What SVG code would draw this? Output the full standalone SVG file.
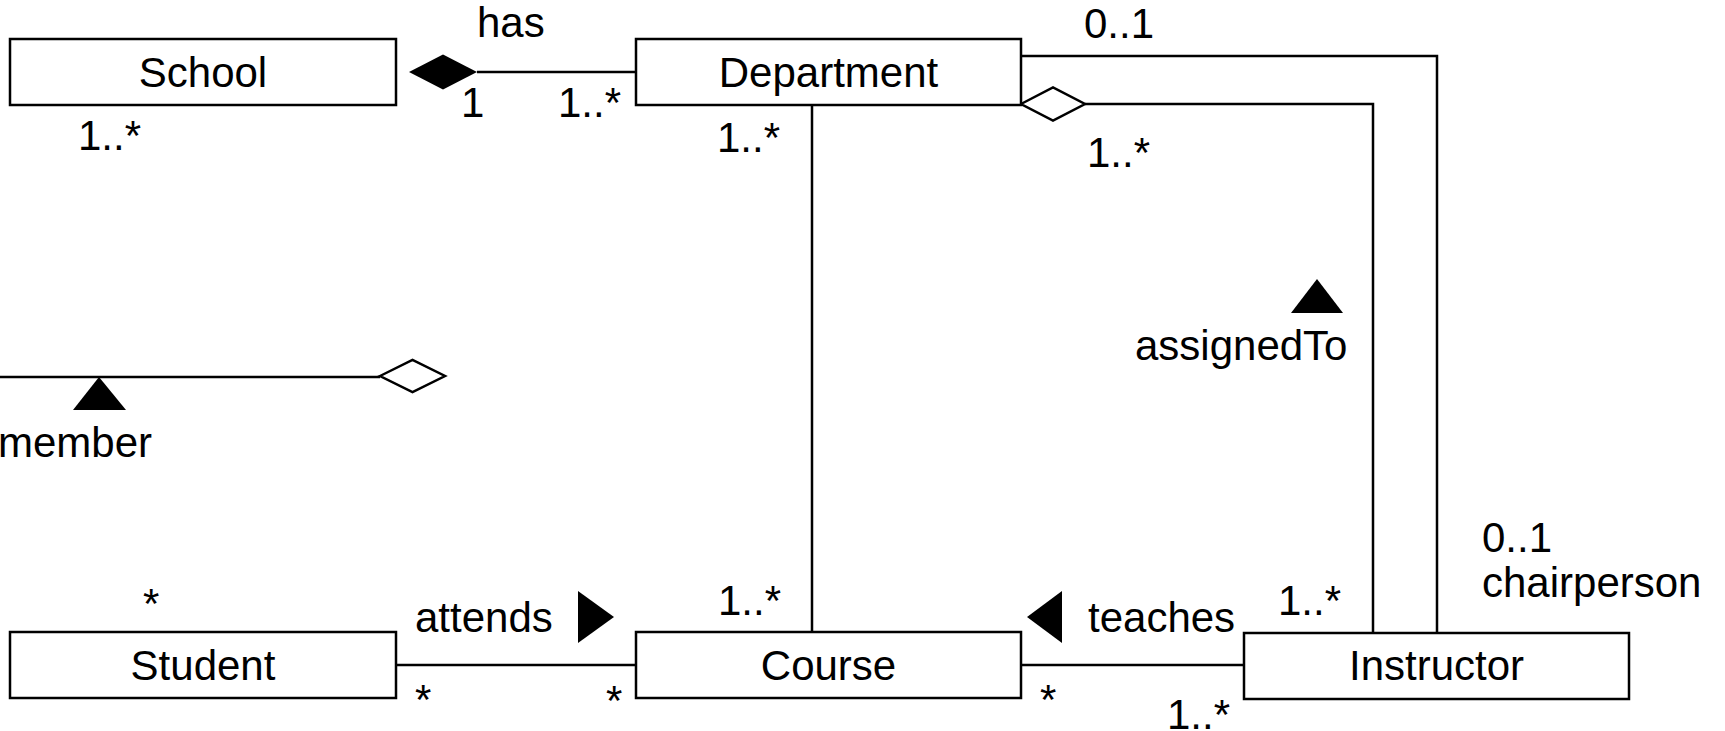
<svg xmlns="http://www.w3.org/2000/svg" width="1725" height="731" viewBox="0 0 1725 731">
<style>
  .box { fill: #ffffff; stroke: #000000; stroke-width: 2.5; }
  .ln { fill: none; stroke: #000000; stroke-width: 2.5; }
  .hollow { fill: #ffffff; stroke: #000000; stroke-width: 2.5; stroke-linejoin: miter; }
  .solid { fill: #000000; stroke: none; }
  text { font-family: "Liberation Sans", Arial, sans-serif; font-size: 42px; fill: #000000; }
  .name { text-anchor: middle; }
</style>
<rect width="1725" height="731" fill="#ffffff"/>
<g id="connectors">
  <!-- School - Department (has, composition) -->
  <line class="ln" x1="477" y1="72" x2="636" y2="72"/>
  <polygon class="solid" points="409,72 443,54.5 477,72 443,89.5"/>
  <!-- Department - Instructor (chairperson) -->
  <polyline class="ln" points="1021,56 1437,56 1437,633"/>
  <!-- Department - Instructor (assignedTo, aggregation) -->
  <polyline class="ln" points="1085,104 1373,104 1373,633"/>
  <polygon class="hollow" points="1021,104 1053,87.5 1085,104 1053,120.5"/>
  <!-- Department - Course -->
  <line class="ln" x1="812" y1="105" x2="812" y2="632"/>
  <!-- Student - Course (attends) -->
  <line class="ln" x1="396" y1="665" x2="636" y2="665"/>
  <!-- Course - Instructor (teaches) -->
  <line class="ln" x1="1021" y1="665" x2="1244" y2="665"/>
  <!-- member (aggregation) -->
  <line class="ln" x1="0" y1="377" x2="380" y2="377"/>
  <polygon class="hollow" points="380,376 412.5,360 445,376 412.5,392"/>
  <!-- direction triangles -->
  <polygon class="solid" points="99,377 126,410 73,410"/>
  <polygon class="solid" points="1317,279 1343,313 1291,313"/>
  <polygon class="solid" points="578,591 614,617 578,643"/>
  <polygon class="solid" points="1062,591 1027,617 1062,643"/>
  <!-- labels -->
  <text x="477" y="37">has</text>
  <text x="461" y="117">1</text>
  <text x="558" y="117">1..*</text>
  <text x="78" y="150">1..*</text>
  <text x="717" y="152">1..*</text>
  <text x="1084" y="38">0..1</text>
  <text x="1087" y="167">1..*</text>
  <text x="1135" y="360">assignedTo</text>
  <text x="-2" y="457">member</text>
  <text x="143" y="618">*</text>
  <text x="415" y="632">attends</text>
  <text x="415" y="714">*</text>
  <text x="606" y="715">*</text>
  <text x="718" y="615">1..*</text>
  <text x="1088" y="632">teaches</text>
  <text x="1040" y="714">*</text>
  <text x="1278" y="615">1..*</text>
  <text x="1167" y="729">1..*</text>
  <text x="1482" y="552">0..1</text>
  <text x="1482" y="597">chairperson</text>
</g>
<g id="School">
  <rect class="box" x="10" y="39" width="386" height="66"/>
  <text class="name" x="203" y="87">School</text>
</g>
<g id="Department">
  <rect class="box" x="636" y="39" width="385" height="66"/>
  <text class="name" x="828.5" y="87">Department</text>
</g>
<g id="Student">
  <rect class="box" x="10" y="632" width="386" height="66"/>
  <text class="name" x="203" y="680">Student</text>
</g>
<g id="Course">
  <rect class="box" x="636" y="632" width="385" height="66"/>
  <text class="name" x="828.5" y="680">Course</text>
</g>
<g id="Instructor">
  <rect class="box" x="1244" y="633" width="385" height="66"/>
  <text class="name" x="1436.5" y="680">Instructor</text>
</g>
</svg>
